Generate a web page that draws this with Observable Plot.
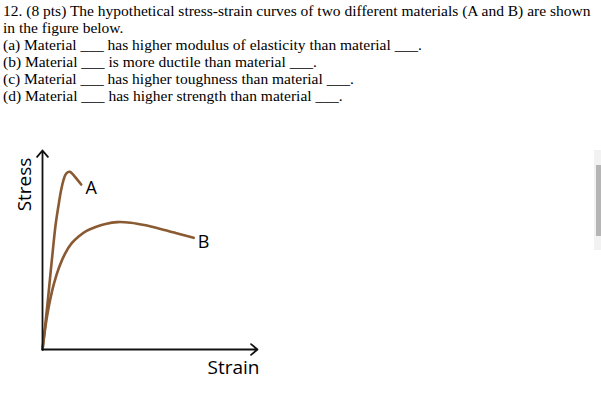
<!DOCTYPE html>
<html>
<head>
<meta charset="utf-8">
<script src="https://cdn.jsdelivr.net/npm/d3@7"></script>
<script src="https://cdn.jsdelivr.net/npm/@observablehq/plot@0.6"></script>
<style>
  html, body { margin: 0; padding: 0; background: #fff; width: 601px; height: 401px; overflow: hidden; position: relative; }
  #question { position: absolute; left: 3px; top: 2px; font: 15.5px "Liberation Serif", "Times New Roman", serif; line-height: 17px; color: #000; white-space: pre; }
  #chart { position: absolute; left: 0; top: 105px; }
  #track { position: absolute; left: 594px; top: 150px; width: 7px; height: 100px; background: #f2f2f2; }
  #thumb { position: absolute; left: 596px; top: 165px; width: 5px; height: 71px; background: #b5b5b5; }
</style>
</head>
<body>
<div id="question"></div>
<div id="chart"></div>
<div id="track"></div>
<div id="thumb"></div>
<script>
// Question text lines
const questionLines = [
  "12. (8 pts) The hypothetical stress-strain curves of two different materials (A and B) are shown",
  "in the figure below.",
  "(a) Material ___ has higher modulus of elasticity than material ___.",
  "(b) Material ___ is more ductile than material ___.",
  "(c) Material ___ has higher toughness than material ___.",
  "(d) Material ___ has higher strength than material ___."
];

// Curve A (strain, stress) in arbitrary units 0..100
const strainA = [0, 1.26, 2.47, 3.63, 4.8, 6.05, 7.45, 8.62, 9.69, 10.7, 11.8, 12.7, 13.7, 15.8, 18.0];
const stressA = [0, 12.1, 24.6, 37.2, 49.7, 62.3, 72.4, 79.9, 84.9, 87.9, 89.1, 89.3, 88.5, 85.9, 82.9];

// Curve B
const strainB = [0, 0.93, 2.10, 3.49, 5.36, 7.68, 10.5, 13.5, 16.8, 20.5, 24.7, 29.3, 34.8, 41.0, 48.0, 54.9, 61.9, 70.3];
const stressB = [0, 8.04, 16.6, 24.6, 33.2, 41.2, 48.2, 53.3, 56.8, 59.6, 61.6, 63.1, 64.0, 63.7, 62.4, 60.6, 58.6, 56.1];

const curveNames = ["A", "B"];
const axisNames = ["Strain", "Stress"];
const axisMax = 100;

document.getElementById("question").textContent = questionLines.join("\n");

const rows = [
  ...strainA.map((x, i) => ({curve: curveNames[0], x, y: stressA[i]})),
  ...strainB.map((x, i) => ({curve: curveNames[1], x, y: stressB[i]}))
];
const ends = [
  {curve: curveNames[0], x: strainA[strainA.length - 1], y: stressA[stressA.length - 1]},
  {curve: curveNames[1], x: strainB[strainB.length - 1], y: stressB[stressB.length - 1]}
];
const axesLines = [
  {x1: 0, y1: 0, x2: axisMax, y2: 0},
  {x1: 0, y1: 0, x2: 0, y2: axisMax}
];

const brown = "#8a5a32";
const sans = "'Open Sans', 'Noto Sans', sans-serif";

const chart = Plot.plot({
  width: 601,
  height: 296,
  marginLeft: 42,
  marginRight: 344,
  marginTop: 45,
  marginBottom: 52,
  x: {domain: [0, axisMax], axis: null},
  y: {domain: [0, axisMax], axis: null},
  style: {background: "transparent", overflow: "visible"},
  marks: [
    Plot.line(rows, {x: "x", y: "y", z: "curve", stroke: brown, strokeWidth: 2.6, curve: "catmull-rom", strokeLinecap: "round"}),
    Plot.arrow(axesLines, {x1: "x1", y1: "y1", x2: "x2", y2: "y2", stroke: "#111", strokeWidth: 1.8, headLength: 7, headAngle: 80}),
    Plot.text(ends, {x: "x", y: "y", text: "curve", dx: 10, dy: 4, fontSize: 18, fontFamily: sans, fill: "#000", textAnchor: "middle"}),
    Plot.text([axisNames[0]], {frameAnchor: "bottom-right", text: d => d, dx: -24, dy: 24, fontSize: 19, fontFamily: sans, fill: "#000", textAnchor: "middle"}),
    Plot.text([axisNames[1]], {frameAnchor: "top-left", text: d => d, dx: -25, dy: 34, rotate: -90, fontSize: 19, fontFamily: sans, fill: "#000", textAnchor: "middle"})
  ]
});
document.getElementById("chart").appendChild(chart);
</script>
</body>
</html>
